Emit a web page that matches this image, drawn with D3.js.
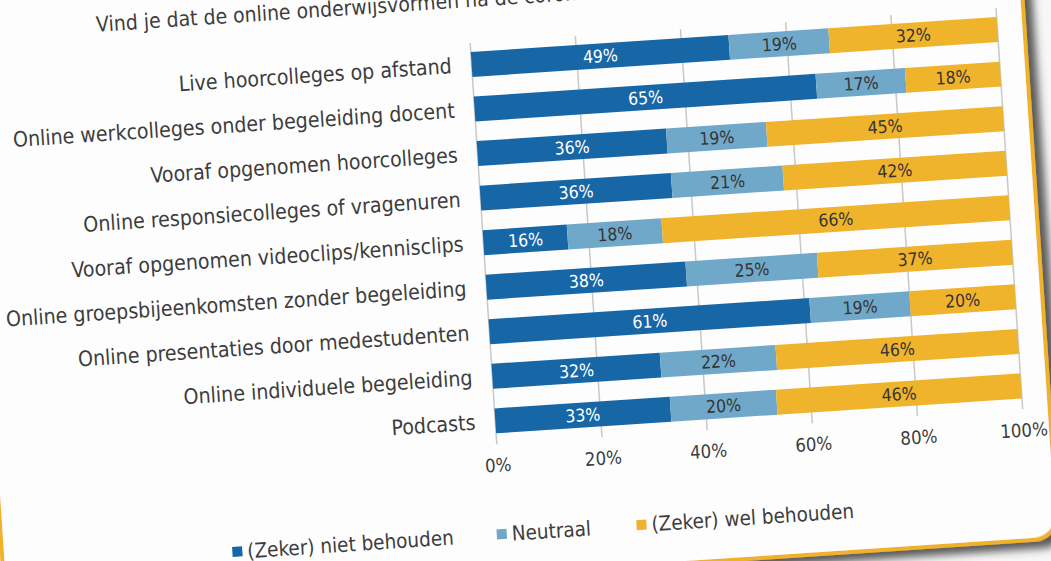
<!DOCTYPE html>
<meta charset="utf-8">
<style>
    body{
        margin: 0;
        background-color: #f7f7f7;
    }
    svg{
        display: block;
    }
    text{
        font-family: "DejaVu Sans Condensed", "DejaVu Sans", sans-serif;
        font-stretch: condensed;
        fill: #3d3d3d;
    }
    .grid line{
        stroke: #c8c8c8;
        stroke-width: 1.5;
    }
</style>
<svg width="1051" height="561"></svg>
<script src="https://d3js.org/d3.v7.min.js"></script>
<script>
    // de vraag (rest van de titel valt buiten beeld)
    var title = "Vind je dat de online onderwijsvormen na de coronacrisis behouden moeten blijven?";

    var categories = [
        "Live hoorcolleges op afstand",
        "Online werkcolleges onder begeleiding docent",
        "Vooraf opgenomen hoorcolleges",
        "Online responsiecolleges of vragenuren",
        "Vooraf opgenomen videoclips/kennisclips",
        "Online groepsbijeenkomsten zonder begeleiding",
        "Online presentaties door medestudenten",
        "Online individuele begeleiding",
        "Podcasts"
    ];
    var nietBehouden = [49, 65, 36, 36, 16, 38, 61, 32, 33];
    var neutraal     = [19, 17, 19, 21, 18, 25, 19, 22, 20];
    var welBehouden  = [32, 18, 45, 42, 66, 37, 20, 46, 46];

    var seriesNames = ["(Zeker) niet behouden", "Neutraal", "(Zeker) wel behouden"];
    var colors = ["#1767a7", "#70a8c9", "#efb32c"];
    var ticks = [0, 0.2, 0.4, 0.6, 0.8, 1];

    var rows = categories.map(function (c, i) {
        var r = {cat: c};
        r[seriesNames[0]] = nietBehouden[i];
        r[seriesNames[1]] = neutraal[i];
        r[seriesNames[2]] = welBehouden[i];
        return r;
    });

    var svg = d3.select("svg");

    var defs = svg.append("defs");
    var f = defs.append("filter").attr("id", "shadow")
        .attr("x", "-5%").attr("y", "-5%").attr("width", "115%").attr("height", "115%");
    f.append("feDropShadow")
        .attr("dx", 8).attr("dy", 7)
        .attr("stdDeviation", 4)
        .attr("flood-color", "#333333")
        .attr("flood-opacity", 0.8);

    // hele foto is iets scheef
    var g = svg.append("g").attr("transform", "rotate(-3.8, 525, 280)");

    g.append("rect")
        .attr("x", -15).attr("y", -70)
        .attr("width", 1055).attr("height", 643)
        .attr("rx", 24)
        .attr("fill", "#fdfdfd")
        .attr("stroke", "#f0b22c")
        .attr("stroke-width", 4)
        .attr("filter", "url(#shadow)");

    var x = d3.scaleLinear().domain([0, 1]).range([486, 1013]);
    var y = d3.scaleBand().domain(categories).range([40, 440])
        .paddingInner(0.44).paddingOuter(0.2);

    g.append("text")
        .attr("x", 114).attr("y", 4)
        .style("font-size", "21px")
        .text(title);

    var grid = g.append("g").attr("class", "grid");
    grid.selectAll("line").data(ticks).enter().append("line")
        .attr("x1", function (d) { return x(d); })
        .attr("x2", function (d) { return x(d); })
        .attr("y1", 40).attr("y2", 442);

    g.selectAll(".tick-label").data(ticks).enter().append("text")
        .attr("class", "tick-label")
        .attr("x", function (d) { return x(d); })
        .attr("y", 463)
        .attr("dy", "0.35em")
        .attr("text-anchor", "middle")
        .style("font-size", "18.5px")
        .text(d3.format(".0%"));

    g.selectAll(".cat").data(categories).enter().append("text")
        .attr("class", "cat")
        .attr("x", 466)
        .attr("y", function (d) { return y(d) + y.bandwidth() / 2; })
        .attr("dy", "0.35em")
        .attr("text-anchor", "end")
        .style("font-size", "21.2px")
        .text(function (d) { return d; });

    var stack = d3.stack().keys(seriesNames).offset(d3.stackOffsetExpand);
    var series = stack(rows);

    var layer = g.selectAll(".layer").data(series).enter().append("g")
        .attr("class", "layer")
        .attr("fill", function (d, i) { return colors[i]; });

    layer.selectAll("rect").data(function (d) { return d; }).enter().append("rect")
        .attr("x", function (d) { return x(d[0]); })
        .attr("y", function (d) { return y(d.data.cat); })
        .attr("width", function (d) { return x(d[1]) - x(d[0]); })
        .attr("height", y.bandwidth());

    layer.each(function (s, i) {
        d3.select(this).selectAll("text").data(s).enter().append("text")
            .attr("x", function (d) { return (x(d[0]) + x(d[1])) / 2; })
            .attr("y", function (d) { return y(d.data.cat) + y.bandwidth() / 2; })
            .attr("dy", "0.36em")
            .attr("text-anchor", "middle")
            .style("font-size", "17.5px")
            .style("fill", i == 0 ? "#ffffff" : "#353535")
            .text(function (d) { return d.data[s.key] + "%"; });
    });

    // legenda
    var legendX = [220, 485, 625];
    var legend = g.selectAll(".legend").data(seriesNames).enter().append("g")
        .attr("class", "legend")
        .attr("transform", function (d, i) { return "translate(" + legendX[i] + ",532)"; });
    legend.append("rect")
        .attr("x", -5).attr("y", -5)
        .attr("width", 10).attr("height", 10)
        .attr("fill", function (d, i) { return colors[i]; });
    legend.append("text")
        .attr("x", 10)
        .attr("dy", "0.35em")
        .style("font-size", "20.5px")
        .text(function (d) { return d; });
</script>
